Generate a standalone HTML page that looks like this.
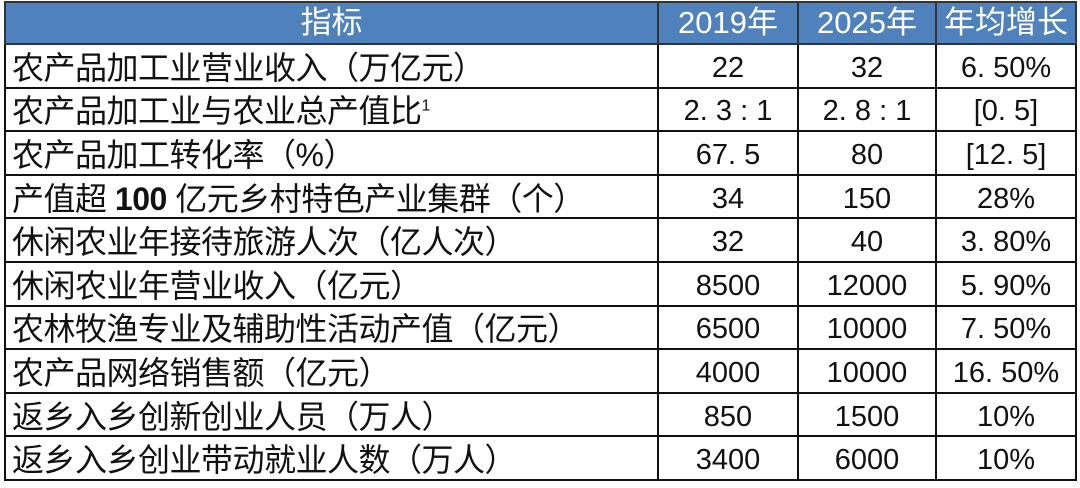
<!DOCTYPE html>
<html><head><meta charset="utf-8"><style>
body{margin:0;width:1080px;height:488px;background:#fff;overflow:hidden}
table{position:absolute;left:4px;top:1px;border-collapse:collapse;table-layout:fixed;font-family:"Liberation Sans","Noto Sans CJK SC",sans-serif;color:#111}
td{border:2px solid #111;height:37.6px;padding:4px 0 0 0;font-size:29px;line-height:32px;text-align:center;white-space:nowrap;overflow:hidden}
td.l{text-align:left;padding-left:6px;font-size:32px;letter-spacing:-0.5px}
tr.h td{background:#4f81bd;color:#fff;height:40px;font-size:31px;border-color:#333;padding-top:0}
sup{font-size:16px;line-height:0}
</style></head><body>
<table>
<colgroup><col style="width:653px"><col style="width:140px"><col style="width:138px"><col style="width:140px"></colgroup>
<tr class="h"><td>指标</td><td>2019年</td><td>2025年</td><td>年均增长</td></tr>
<tr><td class="l">农产品加工业营业收入（万亿元）</td><td>22</td><td>32</td><td>6. 50%</td></tr>
<tr><td class="l">农产品加工业与农业总产值比<sup>1</sup></td><td>2. 3 : 1</td><td>2. 8 : 1</td><td>[0. 5]</td></tr>
<tr><td class="l">农产品加工转化率（%）</td><td>67. 5</td><td>80</td><td>[12. 5]</td></tr>
<tr><td class="l">产值超 <b>100</b> 亿元乡村特色产业集群（个）</td><td>34</td><td>150</td><td>28%</td></tr>
<tr><td class="l">休闲农业年接待旅游人次（亿人次）</td><td>32</td><td>40</td><td>3. 80%</td></tr>
<tr><td class="l">休闲农业年营业收入（亿元）</td><td>8500</td><td>12000</td><td>5. 90%</td></tr>
<tr><td class="l">农林牧渔专业及辅助性活动产值（亿元）</td><td>6500</td><td>10000</td><td>7. 50%</td></tr>
<tr><td class="l">农产品网络销售额（亿元）</td><td>4000</td><td>10000</td><td>16. 50%</td></tr>
<tr><td class="l">返乡入乡创新创业人员（万人）</td><td>850</td><td>1500</td><td>10%</td></tr>
<tr><td class="l">返乡入乡创业带动就业人数（万人）</td><td>3400</td><td>6000</td><td>10%</td></tr>
</table>
</body></html>
